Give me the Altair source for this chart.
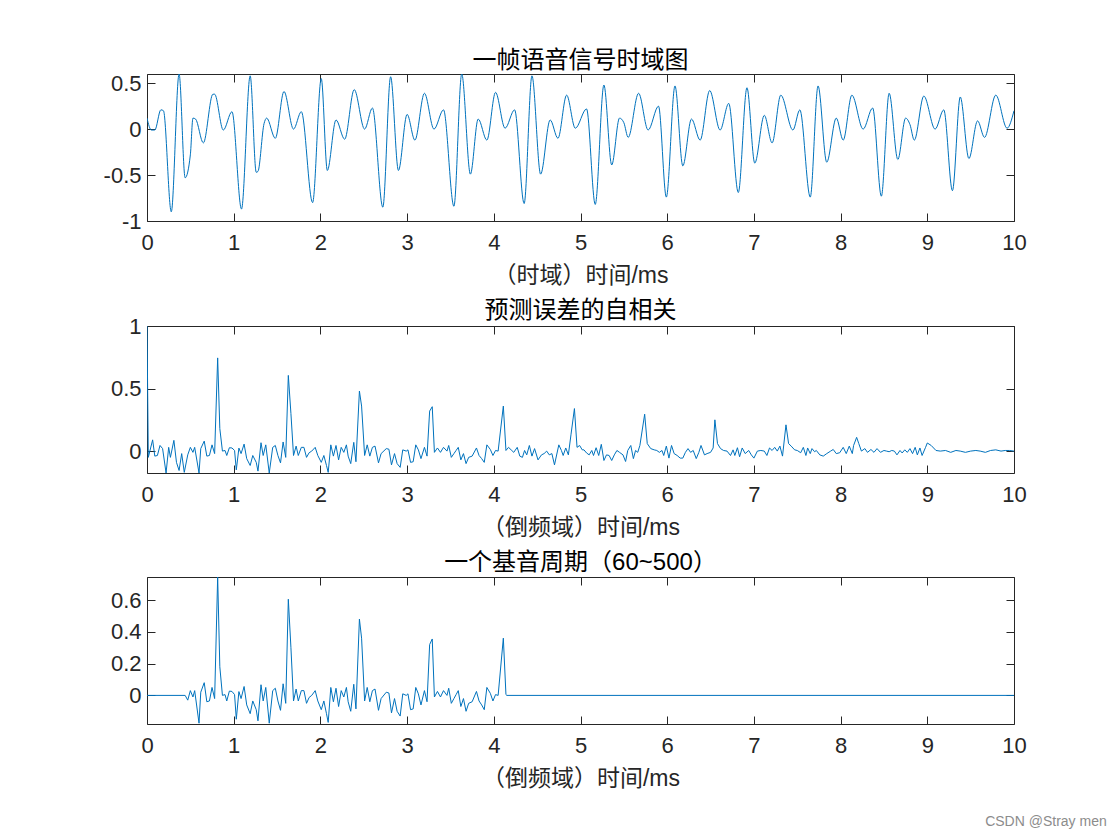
import altair as alt
import pandas as pd

# ---------------- data ----------------
# Panel 1: one speech frame (time in ms, amplitude) - turning points of the waveform
top_t = [0.00, 0.05, 0.09, 0.16, 0.19, 0.28, 0.37, 0.44, 0.50, 0.53, 0.56, 0.65, 0.76, 0.78, 0.88,
         0.98, 1.09, 1.19, 1.26, 1.28, 1.35, 1.38, 1.48, 1.58, 1.69, 1.78, 1.91, 2.01, 2.08, 2.18,
         2.28, 2.39, 2.51, 2.60, 2.72, 2.81, 2.90, 3.00, 3.09, 3.20, 3.31, 3.42, 3.54, 3.63, 3.73,
         3.82, 3.92, 4.02, 4.13, 4.24, 4.35, 4.44, 4.54, 4.65, 4.74, 4.84, 4.94, 5.07, 5.17, 5.27,
         5.36, 5.45, 5.50, 5.55, 5.67, 5.78, 5.90, 5.99, 6.09, 6.18, 6.28, 6.38, 6.49, 6.61, 6.71,
         6.82, 6.92, 7.01, 7.12, 7.21, 7.31, 7.45, 7.53, 7.65, 7.74, 7.84, 7.95, 8.03, 8.13, 8.26,
         8.37, 8.47, 8.56, 8.66, 8.75, 8.80, 8.85, 8.96, 9.09, 9.19, 9.29, 9.38, 9.48, 9.58, 9.66,
         9.79, 9.92, 10.00]
top_v = [0.12, -0.01, -0.01, 0.21, 0.20, -0.90, 0.60, -0.53, -0.28, 0.12, 0.11, -0.15, 0.38, 0.38, -0.01,
         0.19, -0.87, 0.58, -0.47, -0.46, 0.06, 0.12, -0.10, 0.41, 0.00, 0.19, -0.80, 0.55, -0.45, 0.10,
         -0.11, 0.43, 0.00, 0.23, -0.85, 0.57, -0.45, 0.16, -0.12, 0.39, 0.00, 0.21, -0.84, 0.60, -0.49,
         0.11, -0.12, 0.40, 0.01, 0.21, -0.81, 0.58, -0.49, 0.10, -0.10, 0.37, 0.01, 0.22, -0.82, 0.48,
         -0.39, 0.12, 0.07, -0.09, 0.39, -0.01, 0.25, -0.74, 0.47, -0.40, 0.11, -0.12, 0.42, -0.01, 0.28,
         -0.69, 0.45, -0.37, 0.15, -0.15, 0.37, -0.01, 0.21, -0.74, 0.47, -0.36, 0.12, -0.12, 0.37, 0.00,
         0.23, -0.73, 0.39, -0.33, 0.12, 0.05, -0.12, 0.36, 0.00, 0.21, -0.67, 0.35, -0.32, 0.09, -0.09,
         0.37, 0.01, 0.20]

# Panel 2: autocorrelation of the prediction error
mid_t = [0.00, 0.015, 0.065, 0.09, 0.12, 0.15, 0.18, 0.22, 0.25, 0.27, 0.31, 0.34, 0.37, 0.40, 0.43,
         0.47, 0.50, 0.53, 0.55, 0.60, 0.62, 0.66, 0.69, 0.72, 0.75, 0.78, 0.815, 0.84, 0.87, 0.90,
         0.92, 0.95, 0.98, 1.01, 1.03, 1.06, 1.085, 1.12, 1.15, 1.19, 1.22, 1.26, 1.28, 1.315, 1.34,
         1.37, 1.41, 1.45, 1.48, 1.51, 1.54, 1.57, 1.60, 1.63, 1.66, 1.69, 1.72, 1.745, 1.78, 1.81,
         1.84, 1.87, 1.90, 1.94, 1.97, 2.01, 2.04, 2.07, 2.09, 2.12, 2.15, 2.18, 2.21, 2.24, 2.27,
         2.30, 2.32, 2.35, 2.385, 2.41, 2.45, 2.475, 2.51, 2.54, 2.57, 2.60, 2.63, 2.67, 2.70, 2.76,
         2.79, 2.82, 2.855, 2.885, 2.92, 2.95, 2.99, 3.01, 3.04, 3.07, 3.10, 3.13, 3.16, 3.20, 3.23,
         3.26, 3.29, 3.315, 3.35, 3.385, 3.42, 3.46, 3.48, 3.51, 3.54, 3.565, 3.59, 3.62, 3.65, 3.68,
         3.71, 3.75, 3.80, 3.83, 3.86, 3.89, 3.92, 3.96, 3.99, 4.02, 4.05, 4.11, 4.14, 4.17, 4.20,
         4.23, 4.27, 4.30, 4.33, 4.355, 4.38, 4.41, 4.44, 4.47, 4.51, 4.55, 4.58, 4.61, 4.64, 4.67,
         4.70, 4.75, 4.78, 4.80, 4.83, 4.86, 4.89, 4.93, 4.96, 4.99, 5.02, 5.04, 5.07, 5.10, 5.13,
         5.15, 5.18, 5.21, 5.24, 5.27, 5.30, 5.33, 5.36, 5.39, 5.42, 5.45, 5.49, 5.52, 5.545, 5.58,
         5.61, 5.635, 5.66, 5.685, 5.74, 5.77, 5.81, 5.85, 5.88, 5.91, 5.94, 5.96, 5.99, 6.02, 6.05,
         6.08, 6.115, 6.15, 6.18, 6.21, 6.24, 6.27, 6.30, 6.335, 6.365, 6.39, 6.43, 6.46, 6.50, 6.53,
         6.55, 6.58, 6.615, 6.65, 6.69, 6.73, 6.76, 6.78, 6.81, 6.835, 6.865, 6.90, 6.94, 6.97, 7.00,
         7.04, 7.08, 7.12, 7.15, 7.18, 7.21, 7.24, 7.27, 7.30, 7.33, 7.37, 7.40, 7.43, 7.47, 7.50,
         7.54, 7.57, 7.60, 7.62, 7.65, 7.67, 7.70, 7.72, 7.76, 7.80, 7.84, 7.885, 7.915, 7.95, 7.99,
         8.03, 8.065, 8.10, 8.135, 8.15, 8.185, 8.21, 8.24, 8.28, 8.31, 8.35, 8.385, 8.42, 8.46, 8.50,
         8.53, 8.56, 8.59, 8.62, 8.65, 8.685, 8.71, 8.74, 8.77, 8.80, 8.83, 8.86, 8.885, 8.915, 8.94,
         8.98, 9.00, 9.045, 9.10, 9.15, 9.21, 9.27, 9.33, 9.38, 9.44, 9.50, 9.56, 9.61, 9.67, 9.73,
         9.79, 9.85, 9.90, 9.95, 10.00]
mid_v = [1.00, -0.05, 0.09, -0.04, -0.035, 0.045, 0.02, -0.175, 0.03, -0.05, 0.086, -0.09, -0.155, -0.02, -0.17,
         -0.03, 0.03, -0.01, 0.03, -0.175, 0.02, 0.08, -0.04, -0.035, 0.05, -0.02, 0.745, 0.18, 0.00, 0.005,
         -0.035, 0.027, 0.025, 0.005, -0.15, 0.024, -0.02, 0.056, -0.06, -0.115, -0.035, -0.09, -0.16, 0.067, -0.035,
         0.05, -0.175, 0.03, 0.045, -0.035, -0.094, 0.073, -0.05, 0.605, 0.30, -0.035, 0.04, -0.035, 0.03, 0.03,
         -0.05, -0.013, 0.00, 0.03, -0.035, -0.09, -0.035, -0.115, -0.17, 0.05, -0.04, 0.045, -0.07, 0.03, -0.01,
         0.05, -0.04, -0.10, 0.07, -0.085, 0.48, 0.36, -0.035, 0.05, -0.04, 0.03, 0.04, -0.094, -0.02, 0.02,
         0.015, -0.11, -0.02, -0.10, -0.13, 0.01, 0.00, 0.01, -0.09, -0.085, 0.05, 0.01, -0.06, 0.03, -0.04,
         0.32, 0.355, -0.01, 0.025, -0.01, 0.03, 0.00, 0.045, -0.05, -0.02, 0.005, 0.03, -0.07, -0.02, -0.10,
         -0.05, -0.04, 0.025, -0.035, -0.06, -0.09, 0.05, 0.013, -0.035, 0.005, 0.00, 0.36, 0.005, 0.03, 0.01,
         -0.01, 0.03, -0.04, -0.05, 0.005, -0.03, 0.045, -0.04, 0.02, -0.07, -0.03, -0.02, 0.00, -0.03, -0.02,
         -0.11, 0.05, 0.005, -0.035, 0.025, -0.03, 0.13, 0.34, 0.03, 0.045, 0.01, 0.01, -0.015, -0.03, 0.005,
         -0.035, 0.027, -0.035, 0.054, -0.075, -0.03, -0.035, -0.075, -0.03, 0.005, -0.01, -0.03, -0.083, 0.005, 0.045,
         -0.06, 0.005, -0.01, 0.045, 0.295, 0.06, 0.02, 0.01, 0.005, -0.01, 0.005, -0.035, 0.04, -0.056, 0.045,
         -0.02, -0.035, -0.056, -0.056, -0.01, 0.02, -0.01, 0.005, -0.06, -0.01, 0.045, -0.03, -0.02, -0.01, 0.025,
         0.25, 0.06, 0.02, 0.005, 0.00, -0.035, 0.01, -0.035, 0.027, -0.045, 0.025, -0.02, 0.005, -0.03, -0.056,
         0.00, 0.005, 0.00, -0.035, 0.025, 0.005, 0.03, 0.00, 0.04, -0.04, 0.21, 0.06, 0.04, 0.01, 0.005,
         -0.013, 0.03, -0.035, 0.025, -0.02, 0.02, -0.005, 0.005, -0.03, -0.04, -0.02, 0.00, 0.013, -0.02, -0.013,
         0.03, -0.02, 0.04, -0.02, 0.045, 0.11, 0.06, 0.00, 0.02, -0.01, 0.013, -0.01, 0.02, -0.01, 0.005,
         0.00, -0.005, 0.005, 0.00, -0.03, 0.005, -0.015, 0.01, -0.01, 0.02, -0.02, 0.03, -0.03, 0.025, -0.035,
         0.03, 0.065, 0.045, 0.005, 0.00, 0.005, -0.01, 0.005, 0.00, -0.01, 0.00, 0.005, 0.00, -0.01, 0.005,
         0.01, 0.00, 0.005, 0.005, 0.00]

# Panel 3: one pitch period window (60~500) cut out of panel 2, zero elsewhere
BOT_START, BOT_END = 0.44, 4.14
bot_t = [0.00, BOT_START] + [t for t in mid_t if BOT_START < t <= BOT_END] + [BOT_END + 0.01, 10.00]
bot_v = [0.00, 0.00] + [v for t, v in zip(mid_t, mid_v) if BOT_START < t <= BOT_END] + [0.00, 0.00]

x_ticks = [0, 1, 2, 3, 4, 5, 6, 7, 8, 9, 10]
titles = ["一帧语音信号时域图", "预测误差的自相关", "一个基音周期（60~500）"]
x_titles = ["（时域）时间/ms", "（倒频域）时间/ms", "（倒频域）时间/ms"]
y_domains = [[-1.0, 0.6], [-0.175, 1.0], [-0.18, 0.745]]
y_ticks = [[-1, -0.5, 0, 0.5], [0, 0.5, 1], [0, 0.2, 0.4, 0.6]]
watermark = "CSDN @Stray men"

# ---------------- styling ----------------
LINE = "#0072BD"
AX = "#262626"
LATIN = "Liberation Sans, Noto Sans CJK SC"
W, H = 867, 147
TITLE_OFFSETS = [-1, -8, 2]


def panel(t, v, title, xtitle, ydom, yvals, interp, toff):
    df = pd.DataFrame({"t": t, "v": v})
    xs = alt.Scale(domain=[0, 10], nice=False, zero=False)
    ys = alt.Scale(domain=ydom, nice=False, zero=False)
    lab_x = alt.Axis(values=x_ticks, orient="bottom", grid=False, ticks=False, tickSize=0,
                     domain=False, labelFont=LATIN, labelFontSize=22, labelColor=AX,
                     labelPadding=11, labelFlush=False, labelExpr="'' + datum.value",
                     title=xtitle, titleFont=LATIN, titleFontSize=23, titleFontWeight="normal",
                     titleColor=AX, titlePadding=11)
    lab_y = alt.Axis(values=yvals, orient="left", grid=False, ticks=False, tickSize=0,
                     domain=False, labelFont=LATIN, labelFontSize=22, labelColor=AX,
                     labelPadding=6, labelFlush=False, labelExpr="'' + datum.value", title=None)
    base = alt.Chart(df).mark_line(color=LINE, strokeWidth=1, interpolate=interp, clip=True).encode(
        x=alt.X("t:Q", scale=xs, axis=lab_x),
        y=alt.Y("v:Q", scale=ys, axis=lab_y),
    )
    tk = dict(grid=False, ticks=True, tickSize=8, tickColor=AX, tickWidth=1, labels=False,
              domain=False, title=None, offset=-8)
    in1 = alt.Chart(df).mark_line(opacity=0).encode(
        x=alt.X("t:Q", scale=xs, axis=alt.Axis(values=x_ticks, orient="bottom", **tk)),
        y=alt.Y("v:Q", scale=ys, axis=alt.Axis(values=yvals, orient="left", **tk)),
    )
    in2 = alt.Chart(df).mark_line(opacity=0).encode(
        x=alt.X("t:Q", scale=xs, axis=alt.Axis(values=x_ticks, orient="top", **tk)),
        y=alt.Y("v:Q", scale=ys, axis=alt.Axis(values=yvals, orient="right", **tk)),
    )
    return alt.layer(base, in1, in2).resolve_axis(x="independent", y="independent").properties(
        width=W, height=H,
        title=alt.TitleParams(text=title, font=LATIN, fontSize=24, fontWeight="normal",
                              color="black", offset=toff, anchor="middle"),
    )


p1 = panel(top_t, top_v, titles[0], x_titles[0], y_domains[0], y_ticks[0], "monotone", TITLE_OFFSETS[0])
p2 = panel(mid_t, mid_v, titles[1], x_titles[1], y_domains[1], y_ticks[1], "linear", TITLE_OFFSETS[1])
p3 = panel(bot_t, bot_v, titles[2], x_titles[2], y_domains[2], y_ticks[2], "linear", TITLE_OFFSETS[2])

chart = alt.vconcat(p1, p2, p3, spacing=10).properties(
    padding={"left": 94, "top": 40, "right": 0, "bottom": 0},
    title=alt.TitleParams(text=watermark, orient="bottom", anchor="end", font="Liberation Sans",
                          fontSize=14, fontWeight="normal", color="#8c8c8c", offset=24, dx=80),
).configure(background="white").configure_view(stroke=AX, strokeWidth=1)

chart.save("out.html", embed_options={"renderer": "svg", "actions": False})
